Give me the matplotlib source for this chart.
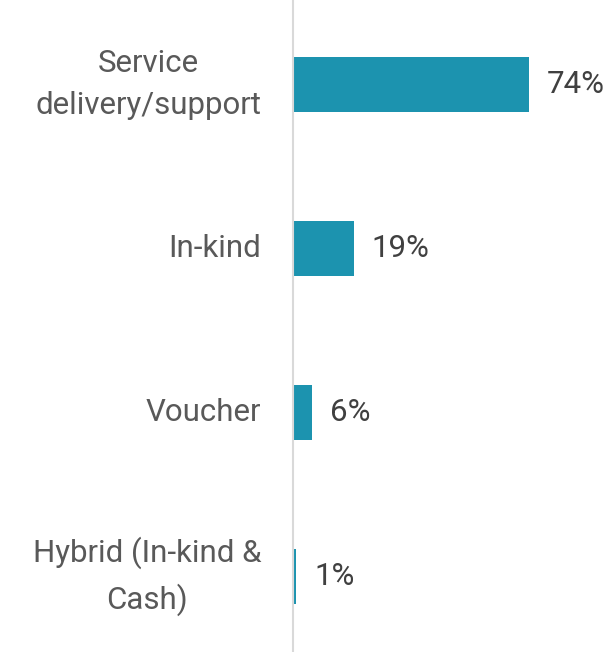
import matplotlib.pyplot as plt

categories = ["Service\ndelivery/support", "In-kind", "Voucher", "Hybrid (In-kind &\nCash)"]
values = [74, 19, 6, 1]
value_labels = ["74%", "19%", "6%", "1%"]

plt.rcParams['font.family'] = ['Roboto', 'DejaVu Sans']

fig = plt.figure(figsize=(6.12, 6.52), dpi=100)
ax = fig.add_axes([293 / 612, 0.0, 1 - 293 / 612, 1.0])

y = list(range(len(categories)))
ax.barh(y, values, height=0.335, color='#1c93af')

# value labels just right of each bar
for yi, v, lab in zip(y, values, value_labels):
    ax.annotate(lab, (v, yi), xytext=(13, 0), textcoords='offset points',
                va='center', ha='left', fontsize=22.5, color='#404040')

ax.set_ylim(3.461, -0.515)
ax.set_xlim(0, 100)
ax.set_yticks(y)
ax.set_yticklabels(categories, fontsize=22.5, color='#595959',
                   multialignment='center', linespacing=1.55, va='center')
ax.tick_params(axis='y', length=0, pad=23)
ax.set_xticks([])

for s in ['top', 'right', 'bottom']:
    ax.spines[s].set_visible(False)
ax.spines['left'].set_color('#d9d9d9')
ax.spines['left'].set_linewidth(1.5)

fig.savefig('out.png', dpi=100)
